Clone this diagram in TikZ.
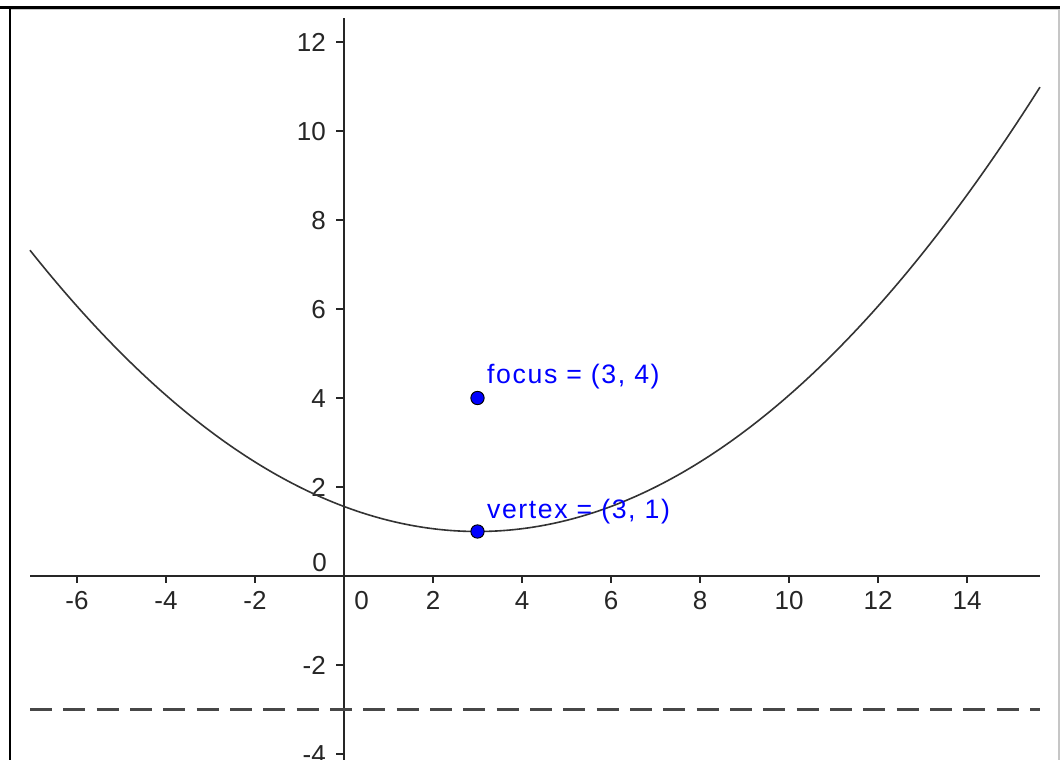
\documentclass[tikz,border=0pt]{standalone}
\usepackage{fontspec}
\setmainfont{Liberation Sans}
\begin{document}
\begin{tikzpicture}[x=33.375pt,y=33.375pt,
  axisline/.style={line width=1.1pt, black!85},
  axtick/.style={line width=1.1pt, black!85},
  ticklabel/.style={font=\fontsize{19.5pt}{22pt}\selectfont, text=black!85, inner sep=0pt},
  ptlabel/.style={font=\fontsize{20pt}{22pt}\selectfont\addfontfeature{LetterSpace=6}, text=blue, inner sep=0pt, anchor=base west},
  pt/.style={circle, fill=blue, draw=black, line width=0.7pt, minimum size=10pt, inner sep=0pt},
  curve/.style={line width=1.2pt, black!80},
  directrix/.style={line width=1.8pt, black!72, dash pattern=on 16.5pt off 8.5pt},
]
\useasboundingbox (-7.7303,-4.1348) rectangle (16.0899,12.9438);
\clip (-7.7303,-4.1348) rectangle (16.0899,12.9438);
\fill[white] (-7.7303,-4.1348) rectangle (16.0899,12.9438);
% frame
\draw[gray!45, line width=0.8pt] (-7.5,12.73) -- (16.067,12.73) -- (16.067,-4.2);
\draw[line width=1.9pt] (-7.506,-4.3) -- (-7.506,12.775);
\draw[line width=1.9pt] (-7.75,12.775) -- (16.1,12.775);
% axes
\coordinate (xl) at (-7.056,0);
\coordinate (xr) at (15.64,0);
\coordinate (yt) at (0,12.54);
\coordinate (yb) at (0,-4.3);
\draw[axisline] (xl) -- (xr);
\draw[axisline] (yb) -- (yt);
\foreach \x in {-6,-4,-2,2,4,6,8,10,12,14}{
  \draw[axtick] (\x,0) -- ++(0,-5.25pt);
  \node[ticklabel, anchor=base] (xlab\x) at ([yshift=-24.75pt]\x,0) {\x};
}
\node[ticklabel, anchor=base] (xlab0) at ([yshift=-24.75pt]0.393,0) {0};
\foreach \y in {-4,-2,2,4,6,8,10,12}{
  \draw[axtick] (0,\y) -- ++(-6pt,0);
  \node[ticklabel, anchor=base east] (ylab\y) at ([xshift=-13.5pt]0,\y-0.2135) {\y};
}
\node[ticklabel, anchor=base east] (ylab0) at ([xshift=-12.75pt]0,0.112) {0};
% directrix
\draw[directrix] (-7.056,-3) -- (15.64,-3);
% parabola
\draw[curve, domain=-7.056:15.64, samples=120, smooth] plot (\x,{(\x-3)*(\x-3)/16+1});
% points
\node[pt] (focus) at (3,4) {};
\node[pt] (vertex) at (3,1) {};
\node[ptlabel] (focuslab) at (3.213,4.315) {focus = (3, 4)};
\node[ptlabel] (vertexlab) at (3.21,1.303) {vertex = (3, 1)};
\end{tikzpicture}
\end{document}
